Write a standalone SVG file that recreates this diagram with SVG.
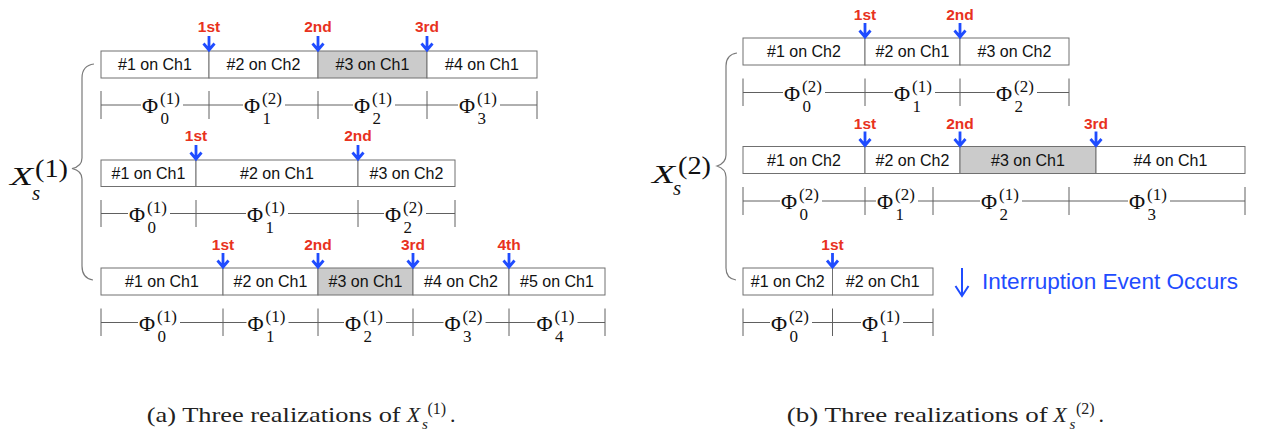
<svg xmlns="http://www.w3.org/2000/svg" xmlns:xlink="http://www.w3.org/1999/xlink" width="1266" height="436" viewBox="0 0 1266 436">
<style>
.cell{fill:#fff;stroke:#707070;stroke-width:1}
.shade{fill:#cbcbcb;stroke:#707070;stroke-width:1}
.ct{font-family:"Liberation Sans",Arial,sans-serif;font-size:16px;text-anchor:middle;fill:#111}
.lbl{font-family:"Liberation Sans",Arial,sans-serif;font-weight:bold;font-size:15.5px;fill:#e8321e;text-anchor:middle}
.evt{stroke:#1f4cff;stroke-width:2.8;fill:none}
.tl{stroke:#606060;stroke-width:1;fill:none}
.phi{font-family:"Liberation Serif","Times New Roman",serif;font-size:22px;fill:#111}
.ss{font-family:"Liberation Serif","Times New Roman",serif;font-size:17px;fill:#111}
.gap{fill:#fff}
.brace{stroke:#7a7a7a;stroke-width:1.2;fill:none}
.mx{font-family:"Liberation Serif","Times New Roman",serif;fill:#111}
.cap{font-family:"Liberation Serif","Times New Roman",serif;font-size:22px;fill:#222}
</style>
<defs>
<path id="ev" class="evt" d="M0,-15 V-1.5 M-5.5,-7.5 L0,-1 L5.5,-7.5"/>
</defs>

<!-- ===== Left panel ===== -->
<g id="left-label">
<path class="brace" d="M94,64 C86,65 82,70 82,78 L82,158 C82,164 79,167 72,168.5 C79,170 82,173 82,179 L82,266 C82,274 86,279 93,280"/>
<text class="mx" x="10" y="185" font-size="26" font-style="italic" textLength="23" lengthAdjust="spacingAndGlyphs">X</text>
<text class="mx" x="35" y="176.5" font-size="25" textLength="33" lengthAdjust="spacingAndGlyphs">(1)</text>
<text class="mx" x="32" y="200" font-size="21" font-style="italic">s</text>
</g>

<g id="L1">
<rect class="cell" x="101" y="51" width="108" height="27"/>
<rect class="cell" x="209" y="51" width="109" height="27"/>
<rect class="shade" x="318" y="51" width="109" height="27"/>
<rect class="cell" x="427" y="51" width="110" height="27"/>
<text class="ct" x="155" y="70">#1 on Ch1</text>
<text class="ct" x="263.5" y="70">#2 on Ch2</text>
<text class="ct" x="372.5" y="70">#3 on Ch1</text>
<text class="ct" x="482" y="70">#4 on Ch1</text>
<text class="lbl" x="209" y="32">1st</text>
<text class="lbl" x="318" y="32">2nd</text>
<text class="lbl" x="427" y="32">3rd</text>
</g>
<g id="L1-phi">
<path class="tl" d="M101,105 H537 M101,91 V119 M209,91 V119 M318,91 V119 M427,91 V119 M537,91 V119"/>
<rect class="gap" x="141" y="103" width="42" height="4"/><text class="phi" x="142" y="113">Φ</text><text class="ss" x="160" y="104">(1)</text><text class="ss" x="160.5" y="124">0</text>
<rect class="gap" x="243" y="103" width="42" height="4"/><text class="phi" x="244" y="113">Φ</text><text class="ss" x="262" y="104">(2)</text><text class="ss" x="262.5" y="124">1</text>
<rect class="gap" x="353" y="103" width="42" height="4"/><text class="phi" x="354" y="113">Φ</text><text class="ss" x="372" y="104">(1)</text><text class="ss" x="372.5" y="124">2</text>
<rect class="gap" x="458" y="103" width="42" height="4"/><text class="phi" x="459" y="113">Φ</text><text class="ss" x="477" y="104">(1)</text><text class="ss" x="477.5" y="124">3</text>
</g>

<g id="L2">
<rect class="cell" x="101" y="160" width="95" height="26.5"/>
<rect class="cell" x="196" y="160" width="162" height="26.5"/>
<rect class="cell" x="358" y="160" width="97" height="26.5"/>
<text class="ct" x="148.5" y="179">#1 on Ch1</text>
<text class="ct" x="277" y="179">#2 on Ch1</text>
<text class="ct" x="406.5" y="179">#3 on Ch2</text>
<text class="lbl" x="196" y="141">1st</text>
<text class="lbl" x="358" y="141">2nd</text>
</g>
<g id="L2-phi">
<path class="tl" d="M101,213.5 H455 M101,200 V227 M196,200 V227 M358,200 V227 M455,200 V227"/>
<rect class="gap" x="128" y="211.5" width="42" height="4"/><text class="phi" x="129" y="221.5">Φ</text><text class="ss" x="147" y="212.5">(1)</text><text class="ss" x="147.5" y="232.5">0</text>
<rect class="gap" x="246" y="211.5" width="42" height="4"/><text class="phi" x="247" y="221.5">Φ</text><text class="ss" x="265" y="212.5">(1)</text><text class="ss" x="265.5" y="232.5">1</text>
<rect class="gap" x="384" y="211.5" width="42" height="4"/><text class="phi" x="385" y="221.5">Φ</text><text class="ss" x="403" y="212.5">(2)</text><text class="ss" x="403.5" y="232.5">2</text>
</g>

<g id="L3">
<rect class="cell" x="101" y="268" width="122" height="27"/>
<rect class="cell" x="223" y="268" width="95" height="27"/>
<rect class="shade" x="318" y="268" width="95" height="27"/>
<rect class="cell" x="413" y="268" width="96" height="27"/>
<rect class="cell" x="509" y="268" width="96" height="27"/>
<text class="ct" x="162" y="287">#1 on Ch1</text>
<text class="ct" x="270.5" y="287">#2 on Ch1</text>
<text class="ct" x="365.5" y="287">#3 on Ch1</text>
<text class="ct" x="461" y="287">#4 on Ch2</text>
<text class="ct" x="557" y="287">#5 on Ch1</text>
<text class="lbl" x="223" y="250">1st</text>
<text class="lbl" x="318" y="250">2nd</text>
<text class="lbl" x="413" y="250">3rd</text>
<text class="lbl" x="509" y="250">4th</text>
</g>
<g id="L3-phi">
<path class="tl" d="M101,322.5 H605 M101,308.5 V336 M223,308.5 V336 M318,308.5 V336 M413,308.5 V336 M509,308.5 V336 M605,308.5 V336"/>
<rect class="gap" x="138" y="320.5" width="42" height="4"/><text class="phi" x="139" y="330.5">Φ</text><text class="ss" x="157" y="321.5">(1)</text><text class="ss" x="157.5" y="341.5">0</text>
<rect class="gap" x="246.5" y="320.5" width="42" height="4"/><text class="phi" x="247.5" y="330.5">Φ</text><text class="ss" x="265.5" y="321.5">(1)</text><text class="ss" x="266" y="341.5">1</text>
<rect class="gap" x="344" y="320.5" width="42" height="4"/><text class="phi" x="345" y="330.5">Φ</text><text class="ss" x="363" y="321.5">(1)</text><text class="ss" x="363.5" y="341.5">2</text>
<rect class="gap" x="443.5" y="320.5" width="42" height="4"/><text class="phi" x="444.5" y="330.5">Φ</text><text class="ss" x="462.5" y="321.5">(2)</text><text class="ss" x="463" y="341.5">3</text>
<rect class="gap" x="535.5" y="320.5" width="42" height="4"/><text class="phi" x="536.5" y="330.5">Φ</text><text class="ss" x="554.5" y="321.5">(1)</text><text class="ss" x="555" y="341.5">4</text>
</g>

<!-- ===== Right panel ===== -->
<g id="right-label">
<path class="brace" d="M737,53 C730,54 726,58 726,66 L726,155 C726,161 723,164 717,166 C723,168 726,171 726,177 L726,268 C726,275 729,279 736,280"/>
<text class="mx" x="652" y="183" font-size="26" font-style="italic" textLength="23" lengthAdjust="spacingAndGlyphs">X</text>
<text class="mx" x="678" y="174" font-size="25" textLength="33" lengthAdjust="spacingAndGlyphs">(2)</text>
<text class="mx" x="673" y="195" font-size="21" font-style="italic">s</text>
</g>

<g id="R1">
<rect class="cell" x="743" y="38" width="122" height="27"/>
<rect class="cell" x="865" y="38" width="95" height="27"/>
<rect class="cell" x="960" y="38" width="109" height="27"/>
<text class="ct" x="804" y="57">#1 on Ch2</text>
<text class="ct" x="912.5" y="57">#2 on Ch1</text>
<text class="ct" x="1014.5" y="57">#3 on Ch2</text>
<text class="lbl" x="865" y="20">1st</text>
<text class="lbl" x="960" y="20">2nd</text>
</g>
<g id="R1-phi">
<path class="tl" d="M743,92.5 H1069 M743,78.5 V106 M865,78.5 V106 M960,78.5 V106 M1069,78.5 V106"/>
<rect class="gap" x="783" y="90.5" width="42" height="4"/><text class="phi" x="784" y="100.5">Φ</text><text class="ss" x="802" y="91.5">(2)</text><text class="ss" x="802.5" y="111.5">0</text>
<rect class="gap" x="893" y="90.5" width="42" height="4"/><text class="phi" x="894" y="100.5">Φ</text><text class="ss" x="912" y="91.5">(1)</text><text class="ss" x="912.5" y="111.5">1</text>
<rect class="gap" x="995" y="90.5" width="42" height="4"/><text class="phi" x="996" y="100.5">Φ</text><text class="ss" x="1014" y="91.5">(2)</text><text class="ss" x="1014.5" y="111.5">2</text>
</g>

<g id="R2">
<rect class="cell" x="743" y="146.5" width="122" height="27"/>
<rect class="cell" x="865" y="146.5" width="95" height="27"/>
<rect class="shade" x="960" y="146.5" width="136" height="27"/>
<rect class="cell" x="1096" y="146.5" width="149" height="27"/>
<text class="ct" x="804" y="165.5">#1 on Ch2</text>
<text class="ct" x="912.5" y="165.5">#2 on Ch2</text>
<text class="ct" x="1028" y="165.5">#3 on Ch1</text>
<text class="ct" x="1170.5" y="165.5">#4 on Ch1</text>
<text class="lbl" x="865" y="128.5">1st</text>
<text class="lbl" x="960" y="128.5">2nd</text>
<text class="lbl" x="1096" y="128.5">3rd</text>
</g>
<g id="R2-phi">
<path class="tl" d="M743,201 H1245 M743,187 V215 M865,187 V215 M933,187 V215 M1069,187 V215 M1245,187 V215"/>
<rect class="gap" x="780" y="199" width="42" height="4"/><text class="phi" x="781" y="209">Φ</text><text class="ss" x="799" y="200">(2)</text><text class="ss" x="799.5" y="220">0</text>
<rect class="gap" x="876" y="199" width="42" height="4"/><text class="phi" x="877" y="209">Φ</text><text class="ss" x="895" y="200">(2)</text><text class="ss" x="895.5" y="220">1</text>
<rect class="gap" x="980" y="199" width="42" height="4"/><text class="phi" x="981" y="209">Φ</text><text class="ss" x="999" y="200">(1)</text><text class="ss" x="999.5" y="220">2</text>
<rect class="gap" x="1128" y="199" width="42" height="4"/><text class="phi" x="1129" y="209">Φ</text><text class="ss" x="1147" y="200">(1)</text><text class="ss" x="1147.5" y="220">3</text>
</g>

<g id="R3">
<rect class="cell" x="743" y="268" width="89.5" height="27"/>
<rect class="cell" x="832.5" y="268" width="100.5" height="27"/>
<text class="ct" x="787.7" y="287">#1 on Ch2</text>
<text class="ct" x="882.7" y="287">#2 on Ch1</text>
<text class="lbl" x="832.5" y="250">1st</text>
</g>
<g id="R3-phi">
<path class="tl" d="M743,322.5 H933 M743,308.5 V336 M832.5,308.5 V336 M933,308.5 V336"/>
<rect class="gap" x="770" y="320.5" width="42" height="4"/><text class="phi" x="771" y="330.5">Φ</text><text class="ss" x="789" y="321.5">(2)</text><text class="ss" x="789.5" y="341.5">0</text>
<rect class="gap" x="861" y="320.5" width="42" height="4"/><text class="phi" x="862" y="330.5">Φ</text><text class="ss" x="880" y="321.5">(1)</text><text class="ss" x="880.5" y="341.5">1</text>
</g>

<g id="legend">
<path d="M962,268 V295 M955.5,286 L962,296 L968.5,286" stroke="#1f4cff" stroke-width="2" fill="none"/>
<text x="982" y="289" font-family="'Liberation Sans',Arial,sans-serif" font-size="22" fill="#1f4cff" textLength="256" lengthAdjust="spacingAndGlyphs">Interruption Event Occurs</text>
</g>

<!-- interruption event arrows -->
<g id="connectors">
<use xlink:href="#ev" x="209" y="51"/>
<use xlink:href="#ev" x="318" y="51"/>
<use xlink:href="#ev" x="427" y="51"/>
<use xlink:href="#ev" x="196" y="160"/>
<use xlink:href="#ev" x="358" y="160"/>
<use xlink:href="#ev" x="223" y="268"/>
<use xlink:href="#ev" x="318" y="268"/>
<use xlink:href="#ev" x="413" y="268"/>
<use xlink:href="#ev" x="509" y="268"/>
<use xlink:href="#ev" x="865" y="38"/>
<use xlink:href="#ev" x="960" y="38"/>
<use xlink:href="#ev" x="865" y="146.5"/>
<use xlink:href="#ev" x="960" y="146.5"/>
<use xlink:href="#ev" x="1096" y="146.5"/>
<use xlink:href="#ev" x="832.5" y="268"/>
</g>

<g id="captions">
<text class="cap" x="146.7" y="422" textLength="254" lengthAdjust="spacingAndGlyphs">(a) Three realizations of</text>
<text class="cap" x="406.7" y="422"><tspan font-style="italic">X</tspan><tspan x="422" dy="7" font-size="15" font-style="italic">s</tspan><tspan x="427.5" dy="-15" font-size="16">(1)</tspan><tspan x="450" dy="8">.</tspan></text>
<text class="cap" x="786.7" y="422" textLength="261" lengthAdjust="spacingAndGlyphs">(b) Three realizations of</text>
<text class="cap" x="1053.3" y="422"><tspan font-style="italic">X</tspan><tspan x="1069.5" dy="7" font-size="15" font-style="italic">s</tspan><tspan x="1076" dy="-15" font-size="16">(2)</tspan><tspan x="1098.5" dy="8">.</tspan></text>
</g>
</svg>
